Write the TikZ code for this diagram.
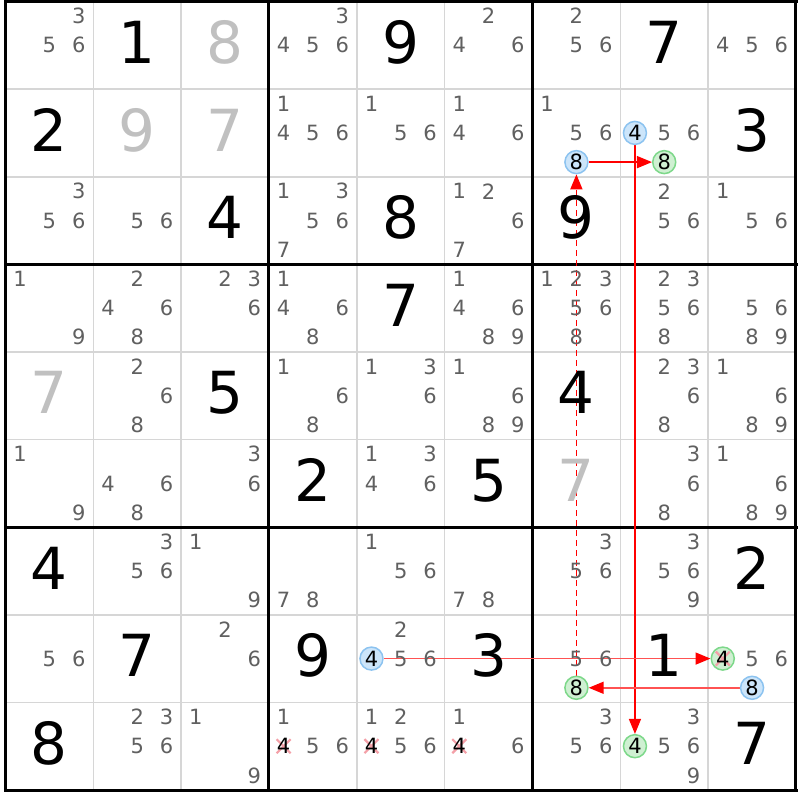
\documentclass[tikz,border=0pt]{standalone}
\usepackage{fontspec}
\setmainfont{DejaVu Sans}
\usetikzlibrary{arrows.meta}
\definecolor{candgray}{HTML}{606060}
\definecolor{pregray}{HTML}{C0C0C0}
\definecolor{gridthin}{HTML}{D6D6D6}
\definecolor{bluefill}{HTML}{CCE5FA}
\definecolor{bluedraw}{HTML}{8CC3F0}
\definecolor{greenfill}{HTML}{CFF0D2}
\definecolor{greendraw}{HTML}{7DD88A}
\definecolor{xpink}{HTML}{F4A0A8}
\pgfdeclarelayer{gridlayer}
\pgfdeclarelayer{connlayer}
\pgfsetlayers{gridlayer,connlayer,main}
\newcommand\skpos[3]{%
  \pgfmathsetmacro\myx{5.5+#2*87.83+(mod(#3-1,3)+0.5)*29.28}%
  \pgfmathsetmacro\myy{1.5+#1*87.61+(floor((#3-1)/3)+0.5)*29.2}}
\newcommand\skcand[3]{\skpos{#1}{#2}{#3}\node[cand] (k#1#2#3) at (\myx,\myy) {#3};}
\newcommand\skcands[3]{\foreach \d in {#3}{\skcand{#1}{#2}{\d}}}
\newcommand\skgiven[3]{\node[bigd] (G#1#2) at ({5.5+(#2+0.5)*87.83},{1.5+(#1+0.5)*87.61-3}) {#3};}
\newcommand\skpre[3]{\node[bigd,text=pregray] (P#1#2) at ({5.5+(#2+0.5)*87.83},{1.5+(#1+0.5)*87.61-3}) {#3};}
\newcommand\skhl[5]{\skpos{#1}{#2}{#3}\node[#4] (#5) at (\myx,\myy) {#3};}
\newcommand\skelim[3]{\skpos{#1}{#2}{#3}%
  \draw[xmark] (\myx-7,\myy-7) -- (\myx+7,\myy+7) (\myx-7,\myy+7) -- (\myx+7,\myy-7);
  \node[cand,text=black] (k#1#2#3) at (\myx,\myy) {#3};}
\begin{document}
\begin{tikzpicture}[x=1pt,y=-1pt,
  cand/.style={font=\fontsize{21}{21}\selectfont,text=candgray,inner sep=0pt,anchor=center},
  bigd/.style={font=\fontsize{58}{58}\selectfont,text=black,inner sep=0pt,anchor=center},
  hlc/.style={circle,minimum size=23pt,inner sep=0pt,line width=1.5pt,text=black,font=\fontsize{21}{21}\selectfont},
  bluec/.style={hlc,draw=bluedraw,fill=bluefill},
  greenc/.style={hlc,draw=greendraw,fill=greenfill},
  xmark/.style={draw=xpink,line width=2.2pt},
  thingrid/.style={draw=gridthin,line width=1.6pt},
  thickgrid/.style={draw=black,line width=3pt},
  arr/.style={draw=red,line width=1.5pt,-{Triangle[length=15pt,width=12pt,color=red]}},
  arrl/.style={arr,draw=red!68}]
\useasboundingbox (0,0) rectangle (800,800);
\begin{pgfonlayer}{gridlayer}
\fill[white] (0,0) rectangle (800,800);
\foreach \i in {1,2,4,5,7,8}{
  \draw[thingrid] ({5.5+\i*87.83},1.5) -- ({5.5+\i*87.83},790);
  \draw[thingrid] (5.5,{1.5+\i*87.61}) -- (796,{1.5+\i*87.61});}
\foreach \i in {0,3,6,9}{
  \draw[thickgrid] ({5.5+\i*87.83},0) -- ({5.5+\i*87.83},791.5);
  \draw[thickgrid] (4,{1.5+\i*87.61}) -- (797.5,{1.5+\i*87.61});}
\end{pgfonlayer}
% row 0
\skcands{0}{0}{3,5,6}
\skgiven{0}{1}{1}
\skpre{0}{2}{8}
\skcands{0}{3}{3,4,5,6}
\skgiven{0}{4}{9}
\skcands{0}{5}{2,4,6}
\skcands{0}{6}{2,5,6}
\skgiven{0}{7}{7}
\skcands{0}{8}{4,5,6}
% row 1
\skgiven{1}{0}{2}
\skpre{1}{1}{9}
\skpre{1}{2}{7}
\skcands{1}{3}{1,4,5,6}
\skcands{1}{4}{1,5,6}
\skcands{1}{5}{1,4,6}
\skcands{1}{6}{1,5,6}
\skhl{1}{6}{8}{bluec}{b168}
\skcands{1}{7}{5,6}
\skhl{1}{7}{4}{bluec}{b174}
\skhl{1}{7}{8}{greenc}{g178}
\skgiven{1}{8}{3}
% row 2
\skcands{2}{0}{3,5,6}
\skcands{2}{1}{5,6}
\skgiven{2}{2}{4}
\skcands{2}{3}{1,3,5,6,7}
\skgiven{2}{4}{8}
\skcands{2}{5}{1,2,6,7}
\skgiven{2}{6}{9}
\skcands{2}{7}{2,5,6}
\skcands{2}{8}{1,5,6}
% row 3
\skcands{3}{0}{1,9}
\skcands{3}{1}{2,4,6,8}
\skcands{3}{2}{2,3,6}
\skcands{3}{3}{1,4,6,8}
\skgiven{3}{4}{7}
\skcands{3}{5}{1,4,6,8,9}
\skcands{3}{6}{1,2,3,5,6,8}
\skcands{3}{7}{2,3,5,6,8}
\skcands{3}{8}{5,6,8,9}
% row 4
\skpre{4}{0}{7}
\skcands{4}{1}{2,6,8}
\skgiven{4}{2}{5}
\skcands{4}{3}{1,6,8}
\skcands{4}{4}{1,3,6}
\skcands{4}{5}{1,6,8,9}
\skgiven{4}{6}{4}
\skcands{4}{7}{2,3,6,8}
\skcands{4}{8}{1,6,8,9}
% row 5
\skcands{5}{0}{1,9}
\skcands{5}{1}{4,6,8}
\skcands{5}{2}{3,6}
\skgiven{5}{3}{2}
\skcands{5}{4}{1,3,4,6}
\skgiven{5}{5}{5}
\skpre{5}{6}{7}
\skcands{5}{7}{3,6,8}
\skcands{5}{8}{1,6,8,9}
% row 6
\skgiven{6}{0}{4}
\skcands{6}{1}{3,5,6}
\skcands{6}{2}{1,9}
\skcands{6}{3}{7,8}
\skcands{6}{4}{1,5,6}
\skcands{6}{5}{7,8}
\skcands{6}{6}{3,5,6}
\skcands{6}{7}{3,5,6,9}
\skgiven{6}{8}{2}
% row 7
\skcands{7}{0}{5,6}
\skgiven{7}{1}{7}
\skcands{7}{2}{2,6}
\skgiven{7}{3}{9}
\skcands{7}{4}{2,5,6}
\skhl{7}{4}{4}{bluec}{b744}
\skgiven{7}{5}{3}
\skcands{7}{6}{5,6}
\skhl{7}{6}{8}{greenc}{g768}
\skgiven{7}{7}{1}
\skcands{7}{8}{5,6}
\skpos{7}{8}{4}
\node[greenc] (g784) at (\myx,\myy) {};
\draw[xmark] (\myx-7,\myy-7) -- (\myx+7,\myy+7) (\myx-7,\myy+7) -- (\myx+7,\myy-7);
\node[cand,text=black] (g784t) at (g784) {4};
\skhl{7}{8}{8}{bluec}{b788}
% row 8
\skgiven{8}{0}{8}
\skcands{8}{1}{2,3,5,6}
\skcands{8}{2}{1,9}
\skcands{8}{3}{1,5,6}
\skelim{8}{3}{4}
\skcands{8}{4}{1,2,5,6}
\skelim{8}{4}{4}
\skcands{8}{5}{1,6}
\skelim{8}{5}{4}
\skcands{8}{6}{3,5,6}
\skcands{8}{7}{3,5,6,9}
\skhl{8}{7}{4}{greenc}{g874}
\skgiven{8}{8}{7}
% connectors
\begin{pgfonlayer}{connlayer}
\draw[arr] (b168) -- (g178);
\draw[arr] (b174) -- (g874);
\draw[arr,dashed,dash pattern=on 6pt off 4pt] (g768) -- (b168);
\draw[arrl] (b744) -- (g784);
\draw[arrl] (b788) -- (g768);
\end{pgfonlayer}
\end{tikzpicture}
\end{document}
